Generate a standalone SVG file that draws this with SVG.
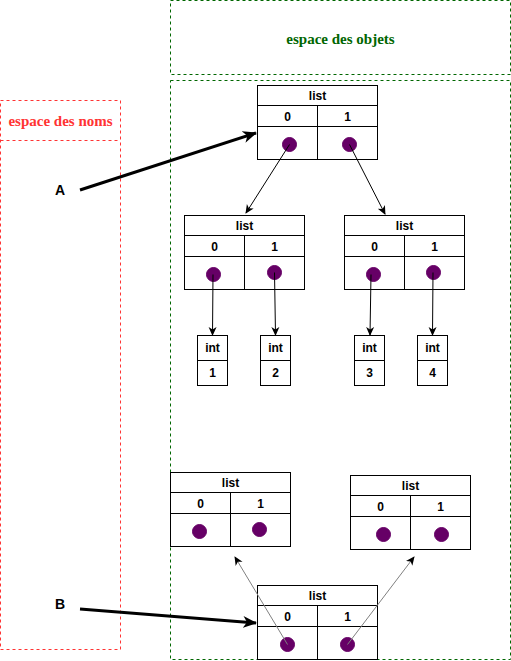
<svg xmlns="http://www.w3.org/2000/svg" width="511" height="661" viewBox="0 0 511 661">
<style>
.box{fill:#fff;stroke:#000;stroke-width:1}
.ln{stroke:#000;stroke-width:1;fill:none}
.t{font-family:"Liberation Sans",Arial,sans-serif;font-size:12px;font-weight:bold;text-anchor:middle;fill:#000}
.dot{fill:#660066;stroke:#660066}
.lbl{font-family:"Liberation Sans",Arial,sans-serif;font-size:14px;font-weight:bold;text-anchor:middle}
.ttl{font-family:"Liberation Serif","Times New Roman",serif;font-size:15px;font-weight:bold;text-anchor:middle}
</style>
<defs>
<marker id="ah" markerWidth="10" markerHeight="10" refX="8" refY="5" orient="auto" markerUnits="userSpaceOnUse">
<path d="M0,1 L9,5 L0,9 L2.5,5 Z" fill="#000"/>
</marker>
<marker id="ahB" markerWidth="16" markerHeight="14" refX="13" refY="7" orient="auto" markerUnits="userSpaceOnUse">
<path d="M0,1 L14,7 L0,13 L4,7 Z" fill="#000"/>
</marker>
<marker id="ahG" markerWidth="10" markerHeight="10" refX="8" refY="5" orient="auto" markerUnits="userSpaceOnUse">
<path d="M0,1 L9,5 L0,9 L2.5,5 Z" fill="#000"/>
</marker>
</defs>
<rect width="511" height="661" fill="#fff"/>
<g id="noms">
<rect x="0.5" y="100.5" width="120" height="549" fill="none" stroke="#FF3333" stroke-dasharray="3,3"/>
<line x1="0.5" y1="140.5" x2="120.5" y2="140.5" stroke="#FF3333" stroke-dasharray="3,3"/>
<text class="ttl" x="60.5" y="126" fill="#FF3333">espace des noms</text>
</g>
<g id="objets-titre">
<rect x="170.5" y="0.5" width="340" height="74" fill="none" stroke="#006600" stroke-dasharray="3,3"/>
<text class="ttl" x="340.5" y="44" fill="#006600">espace des objets</text>
</g>
<g id="objets">
<rect x="170.5" y="80.5" width="340" height="579" fill="none" stroke="#006600" stroke-dasharray="3,3"/>
</g>
<g id="list-top">
<rect class="box" x="257.5" y="85.5" width="120" height="74"/>
<line class="ln" x1="257.5" y1="105.5" x2="377.5" y2="105.5"/>
<line class="ln" x1="257.5" y1="126.5" x2="377.5" y2="126.5"/>
<line class="ln" x1="317.5" y1="105.5" x2="317.5" y2="159.5"/>
<text class="t" x="317.5" y="100">list</text>
<text class="t" x="287.5" y="121">0</text>
<text class="t" x="347.5" y="121">1</text>
<circle class="dot" cx="289.5" cy="144.5" r="7"/>
<circle class="dot" cx="349.5" cy="144.5" r="7"/>
</g>
<g id="list-left">
<rect class="box" x="184.5" y="215.5" width="120" height="74"/>
<line class="ln" x1="184.5" y1="235.5" x2="304.5" y2="235.5"/>
<line class="ln" x1="184.5" y1="256.5" x2="304.5" y2="256.5"/>
<line class="ln" x1="244.5" y1="235.5" x2="244.5" y2="289.5"/>
<text class="t" x="244.5" y="230">list</text>
<text class="t" x="214.5" y="251">0</text>
<text class="t" x="274.5" y="251">1</text>
<circle class="dot" cx="213.5" cy="274.5" r="7"/>
<circle class="dot" cx="274.5" cy="272.5" r="7"/>
</g>
<g id="list-right">
<rect class="box" x="344.5" y="215.5" width="120" height="74"/>
<line class="ln" x1="344.5" y1="235.5" x2="464.5" y2="235.5"/>
<line class="ln" x1="344.5" y1="256.5" x2="464.5" y2="256.5"/>
<line class="ln" x1="404.5" y1="235.5" x2="404.5" y2="289.5"/>
<text class="t" x="404.5" y="230">list</text>
<text class="t" x="374.5" y="251">0</text>
<text class="t" x="434.5" y="251">1</text>
<circle class="dot" cx="373.5" cy="274.5" r="7"/>
<circle class="dot" cx="433.5" cy="272.5" r="7"/>
</g>
<g id="int1">
<rect class="box" x="197.5" y="335.5" width="30" height="50"/>
<line class="ln" x1="197.5" y1="360.5" x2="227.5" y2="360.5"/>
<text class="t" x="212.5" y="352">int</text>
<text class="t" x="212.5" y="377">1</text>
</g>
<g id="int2">
<rect class="box" x="260.5" y="335.5" width="30" height="50"/>
<line class="ln" x1="260.5" y1="360.5" x2="290.5" y2="360.5"/>
<text class="t" x="275.5" y="352">int</text>
<text class="t" x="275.5" y="377">2</text>
</g>
<g id="int3">
<rect class="box" x="354.5" y="335.5" width="30" height="50"/>
<line class="ln" x1="354.5" y1="360.5" x2="384.5" y2="360.5"/>
<text class="t" x="369.5" y="352">int</text>
<text class="t" x="369.5" y="377">3</text>
</g>
<g id="int4">
<rect class="box" x="417.5" y="335.5" width="30" height="50"/>
<line class="ln" x1="417.5" y1="360.5" x2="447.5" y2="360.5"/>
<text class="t" x="432.5" y="352">int</text>
<text class="t" x="432.5" y="377">4</text>
</g>
<g id="list-bl">
<rect class="box" x="170.5" y="472.5" width="120" height="74"/>
<line class="ln" x1="170.5" y1="492.5" x2="290.5" y2="492.5"/>
<line class="ln" x1="170.5" y1="513.5" x2="290.5" y2="513.5"/>
<line class="ln" x1="230.5" y1="492.5" x2="230.5" y2="546.5"/>
<text class="t" x="230.5" y="487">list</text>
<text class="t" x="200.5" y="508">0</text>
<text class="t" x="260.5" y="508">1</text>
<circle class="dot" cx="199.5" cy="531.5" r="7"/>
<circle class="dot" cx="259.5" cy="529.5" r="7"/>
</g>
<g id="list-br">
<rect class="box" x="350.5" y="475.5" width="120" height="74"/>
<line class="ln" x1="350.5" y1="495.5" x2="470.5" y2="495.5"/>
<line class="ln" x1="350.5" y1="516.5" x2="470.5" y2="516.5"/>
<line class="ln" x1="410.5" y1="495.5" x2="410.5" y2="549.5"/>
<text class="t" x="410.5" y="490">list</text>
<text class="t" x="380.5" y="511">0</text>
<text class="t" x="440.5" y="511">1</text>
<circle class="dot" cx="383.5" cy="534.5" r="7"/>
<circle class="dot" cx="441.5" cy="534.5" r="7"/>
</g>
<g id="list-bottom">
<rect class="box" x="257.5" y="585.5" width="120" height="74"/>
<line class="ln" x1="257.5" y1="605.5" x2="377.5" y2="605.5"/>
<line class="ln" x1="257.5" y1="626.5" x2="377.5" y2="626.5"/>
<line class="ln" x1="317.5" y1="605.5" x2="317.5" y2="659.5"/>
<text class="t" x="317.5" y="600">list</text>
<text class="t" x="287.5" y="621">0</text>
<text class="t" x="347.5" y="621">1</text>
<circle class="dot" cx="287.5" cy="644.5" r="7"/>
<circle class="dot" cx="347.5" cy="644.5" r="7"/>
</g>
<g id="labels">
<text class="lbl" x="60" y="195">A</text>
<text class="lbl" x="60" y="609">B</text>
</g>
<g id="connectors">
<line x1="80" y1="190" x2="256" y2="133" stroke="#000" stroke-width="3" marker-end="url(#ahB)"/>
<line x1="80" y1="609" x2="256" y2="623" stroke="#000" stroke-width="3" marker-end="url(#ahB)"/>
<line class="ln" x1="289.5" y1="144.5" x2="246" y2="213" marker-end="url(#ah)"/>
<line class="ln" x1="349.5" y1="144.5" x2="385" y2="214" marker-end="url(#ah)"/>
<line class="ln" x1="213" y1="274.5" x2="212.5" y2="335" marker-end="url(#ah)"/>
<line class="ln" x1="274.5" y1="272.5" x2="275.5" y2="335" marker-end="url(#ah)"/>
<line class="ln" x1="371" y1="274.5" x2="370" y2="335" marker-end="url(#ah)"/>
<line class="ln" x1="433" y1="272.5" x2="432.5" y2="335" marker-end="url(#ah)"/>
<line x1="287.5" y1="644.5" x2="235" y2="557" stroke="#808080" stroke-width="1" marker-end="url(#ahG)"/>
<line x1="347.5" y1="644.5" x2="414" y2="557" stroke="#808080" stroke-width="1" marker-end="url(#ahG)"/>
</g>
</svg>
